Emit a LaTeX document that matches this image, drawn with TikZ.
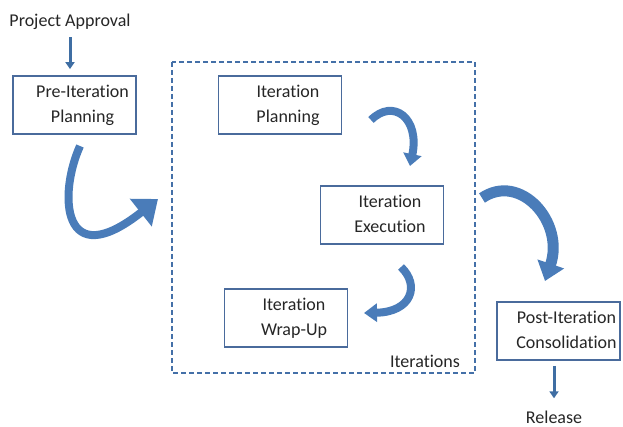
\documentclass[tikz,border=0pt]{standalone}
\usepackage{fontspec}
\setmainfont[Ligatures={NoCommon,NoContextual}]{Carlito}
\usepackage{tikz}
\usetikzlibrary{arrows.meta}
\definecolor{boxln}{HTML}{4A6B9C}
\definecolor{frameln}{HTML}{4470A8}
\definecolor{arrfill}{HTML}{4A7CB9}
\definecolor{arrdark}{HTML}{3F6EA3}
\definecolor{txt}{HTML}{262626}
\newcommand{\twolines}[2]{\hspace*{16pt}\begin{tabular}{@{}c@{}}#1\\#2\end{tabular}}
\tikzset{
  box/.style={draw=boxln,line width=1.8pt,fill=white,minimum width=123pt,minimum height=58pt,inner sep=0pt,text=txt},
  lbl/.style={anchor=base,text=txt,inner sep=2pt},
  ar/.style={-{Triangle[length=7pt,width=9pt]},line width=3pt,arrdark},
  curvar/.style={arrfill},
  frm/.style={draw=frameln,line width=1.5pt,dash pattern=on 5pt off 3pt}
}
\begin{document}
\begin{tikzpicture}[x=1pt,y=-1pt,font=\fontsize{18}{25}\selectfont]
\useasboundingbox (0,0) rectangle (623,427);
% frame of the iterations
\draw[frm] (172,62) rectangle (475,373);
\node[lbl] (itl) at (425,367) {Iterations};
% boxes
\node[box] (pre) at (74.5,105) {\twolines{Pre-Iteration}{Planning}};
\node[box] (plan) at (280,105) {\twolines{Iteration}{Planning}};
\node[box] (exec) at (382,215) {\twolines{Iteration}{Execution}};
\node[box] (wrap) at (286,318) {\twolines{Iteration}{Wrap-Up}};
\node[box] (post) at (558.5,331) {\twolines{Post-Iteration}{Consolidation}};
% start and end
\node[lbl] (appr) at (70,27) {Project Approval};
\node[lbl] (rel) at (554,423) {Release};
\draw[ar,shorten <=5pt,shorten >=6pt] (appr.south) -- (appr.south |- pre.north);
\draw[ar,shorten <=5pt,shorten >=10pt] (rel.north |- post.south) -- (rel.north);
% curved block arrows
\coordinate (a1s) at (80,146);
\coordinate (a1e) at (158,199);
\draw[curvar,line width=8pt,-{Triangle[length=22pt,width=34pt]}] (a1s) .. controls (58,195) and (62,275) .. (a1e);
\coordinate (a2s) at (371,120);
\coordinate (a2e) at (410,166);
\draw[curvar,line width=8pt,-{Triangle[length=12pt,width=18pt]}] (a2s) .. controls (393,98) and (420,118) .. (a2e);
\coordinate (a3s) at (482,198);
\coordinate (a3e) at (545,281);
\draw[curvar,line width=11pt,-{Triangle[length=18pt,width=27pt]}] (a3s) .. controls (520,172) and (565,222) .. (a3e);
\coordinate (a4s) at (401,267);
\coordinate (a4e) at (364,313);
\draw[curvar,line width=8pt,-{Triangle[length=13pt,width=18pt]}] (a4s) .. controls (420,285) and (412,312) .. (a4e);
\end{tikzpicture}
\end{document}
